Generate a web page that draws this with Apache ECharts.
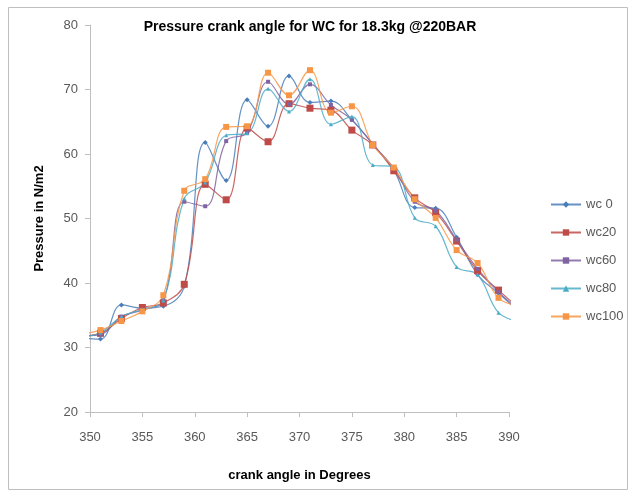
<!DOCTYPE html>
<html><head><meta charset="utf-8">
<script src="https://cdn.jsdelivr.net/npm/echarts@6/dist/echarts.min.js"></script>
<style>html,body{margin:0;padding:0;background:#fff}#c{width:632px;height:497px}</style>
</head><body><div id="c"></div>
<script>
const angles = [349,351,353,355,357,359,361,363,365,367,369,371,373,375,377,379,381,383,385,387,389,391];
const wc0   = [31.5,31.3,36.6,36.1,36.4,39.5,61.8,55.9,68.4,64.3,72.1,68.0,68.2,65.3,61.5,57.5,51.7,51.6,47.1,41.3,38.4,35.5];
const wc20  = [31.8,32.2,34.5,36.2,36.9,39.8,55.3,52.9,64.0,61.9,67.8,67.1,66.8,63.7,61.4,57.4,53.2,50.9,46.5,41.9,38.9,36.0];
const wc60  = [31.8,32.0,34.8,35.8,37.3,52.6,51.9,62.0,63.3,71.2,67.7,70.8,67.6,65.3,61.5,57.8,52.6,51.2,46.7,42.2,38.6,35.8];
const wc80  = [31.6,32.3,34.8,35.9,37.3,53.1,55.6,62.9,63.2,70.1,66.6,71.6,64.6,65.8,58.3,58.0,50.1,48.8,42.5,41.3,35.4,34.0];
const wc100 = [32.0,32.7,34.1,35.6,38.1,54.3,56.1,64.2,64.3,72.6,69.1,73.0,66.4,67.4,61.4,57.9,53.0,50.1,45.1,43.1,37.7,36.4];
const seriesNames = ['wc0','wc20','wc60','wc80','wc100'];
const seriesData = [wc0, wc20, wc60, wc80, wc100];
const colors = ['#4A7EBB','#BE4B48','#8064A2','#4BACC6','#F79646'];
const symbols = ['diamond','rect','rect','triangle','rect'];
const symSizes = [5,7,4,4,6];
const legendLabels = ['wc 0','wc20','wc60','wc80','wc100'];

const chart = echarts.init(document.getElementById('c'), null, {renderer:'canvas'});
const FONT = 'Liberation Sans';
chart.setOption({
  animation:false,
  backgroundColor:'#fff',
  graphic:[{type:'rect', shape:{x:8.5,y:7.5,width:619,height:482}, style:{fill:'none', stroke:'#bfbfbf', lineWidth:1}}],
  title:{text:'Pressure crank angle for WC for 18.3kg @220BAR', left:305, top:15, textAlign:'center',
    textStyle:{fontFamily:FONT, fontSize:14, fontWeight:'bold', color:'#000'}},
  legend:{orient:'vertical', left:545, top:193, itemGap:15, itemWidth:30, itemHeight:8,
    data:seriesNames,
    formatter:(n)=>legendLabels[seriesNames.indexOf(n)],
    textStyle:{fontFamily:FONT, fontSize:13, color:'#595959'}},
  grid:{left:90, right:123, top:25, bottom:85},
  xAxis:{type:'value', min:350, max:390, interval:5,
    name:'crank angle in Degrees', nameLocation:'middle', nameGap:57,
    nameTextStyle:{fontFamily:FONT, fontSize:13, fontWeight:'bold', color:'#000'},
    axisLine:{lineStyle:{color:'#bfbfbf'}}, axisTick:{show:true, length:5, lineStyle:{color:'#bfbfbf'}},
    axisLabel:{fontFamily:FONT, fontSize:13, color:'#595959', margin:19},
    splitLine:{show:false}},
  yAxis:{type:'value', min:20, max:80, interval:10,
    name:'Pressure in N/m2', nameLocation:'middle', nameGap:44,
    nameTextStyle:{fontFamily:FONT, fontSize:13, fontWeight:'bold', color:'#000'},
    axisLine:{show:true, lineStyle:{color:'#bfbfbf'}}, axisTick:{show:true, length:5, lineStyle:{color:'#bfbfbf'}},
    axisLabel:{fontFamily:FONT, fontSize:13, color:'#595959', margin:12},
    splitLine:{show:false}},
  series: seriesNames.map((n,i)=>({
    name:n, type:'line', smooth:0.4, clip:true,
    data: angles.map((a,j)=>[a, seriesData[i][j]]),
    symbol:symbols[i], symbolSize:symSizes[i], showAllSymbol:true,
    lineStyle:{color:colors[i], width:1.2, opacity:0.85},
    itemStyle:{color:colors[i], borderWidth:0},
    emphasis:{disabled:true}
  }))
});
</script></body></html>
